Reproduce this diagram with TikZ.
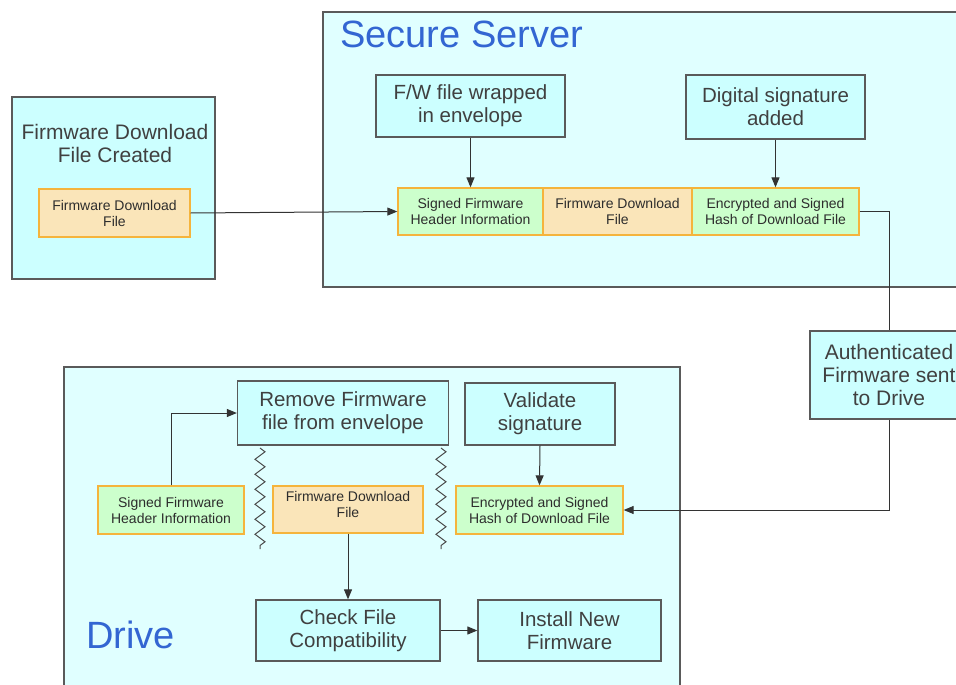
\documentclass[tikz,border=0pt]{standalone}
\usepackage{fontspec}
\setmainfont{Liberation Sans}
\usetikzlibrary{arrows.meta,decorations.pathmorphing}
\definecolor{bigfill}{RGB}{224,255,255}
\definecolor{procfill}{RGB}{204,255,255}
\definecolor{orfill}{RGB}{250,229,185}
\definecolor{grfill}{RGB}{204,255,204}
\definecolor{orline}{RGB}{245,180,60}
\definecolor{edge}{RGB}{90,90,90}
\definecolor{txt}{RGB}{64,64,64}
\definecolor{stxt}{RGB}{45,45,45}
\definecolor{ttl}{RGB}{51,102,210}
\tikzset{
  container/.style={draw=edge, line width=1.3pt, fill=bigfill, inner sep=0pt},
  proc/.style={draw=edge, line width=1.3pt, fill=procfill, text=txt, align=center,
    inner sep=0pt, font=\fontsize{20.5}{23}\selectfont},
  orbox/.style={draw=orline, line width=1.3pt, fill=orfill, text=stxt, align=center,
    inner sep=0pt, font=\fontsize{14}{16}\selectfont},
  grbox/.style={orbox, fill=grfill},
  title/.style={text=ttl, anchor=base west, inner sep=0pt, font=\fontsize{38}{42}\selectfont},
  conn/.style={draw=black!80, line width=1pt},
  arr/.style={conn, -{Triangle[length=10pt,width=8pt]}},
  zz/.style={draw=black!70, line width=1pt, decorate,
    decoration={zigzag, segment length=15pt, amplitude=5pt}}
}
\begin{document}
\begin{tikzpicture}[x=1pt,y=-1pt]
\useasboundingbox[fill=white] (0,0) rectangle (956,685);
% containers
\node[container, fill=procfill, minimum width=203pt, minimum height=182pt] (created) at (113.5,188) {};
\node[container, minimum width=648pt, minimum height=275pt] (server) at (647,149.5) {};
\node[container, minimum width=616pt, minimum height=333pt] (drive) at (372,533.5) {};
\node[title] (servertitle) at (340,48) {Secure Server};
\node[title] (drivetitle) at (86,648) {Drive};
% left
\node[text=txt, align=center, inner sep=0pt, font=\fontsize{21}{23}\selectfont] (createdtitle) at (115,143) {Firmware Download\\File Created};
\node[orbox, minimum width=151pt, minimum height=48pt] (fdl0) at (114.5,213) {Firmware Download\\File};
% server
\node[proc, minimum width=189pt, minimum height=62pt] (wrap) at (470.5,106) {F/W file wrapped\\in envelope};
\node[proc, minimum width=179pt, minimum height=64pt] (digsig) at (775.5,107) {Digital signature\\added};
\node[grbox, minimum width=145pt, minimum height=47pt] (shdr) at (470.5,211.5) {Signed Firmware\\Header Information};
\node[orbox, minimum width=149pt, minimum height=47pt] (sfdl) at (617.5,211.5) {Firmware Download\\File};
\node[grbox, minimum width=167pt, minimum height=47pt] (senc) at (775.5,211.5) {Encrypted and Signed\\Hash of Download File};
% authenticated
\node[proc, minimum width=158pt, minimum height=88pt, font=\fontsize{21}{23}\selectfont] (auth) at (889,375) {Authenticated\\Firmware sent\\to Drive};
% drive
\node[proc, minimum width=211pt, minimum height=64pt] (remove) at (343,413) {Remove Firmware\\file from envelope};
\node[proc, minimum width=150pt, minimum height=62pt] (validate) at (540,414) {Validate\\signature};
\node[grbox, minimum width=146pt, minimum height=48pt] (dhdr) at (171,510) {Signed Firmware\\Header Information};
\node[orbox, minimum width=150pt, minimum height=47pt] (dfdl) at (348,509.5) {Firmware Download\\File\\[-6pt]};
\node[grbox, minimum width=167pt, minimum height=48pt] (denc) at (539.5,510) {Encrypted and Signed\\Hash of Download File};
\node[proc, minimum width=184pt, minimum height=61pt] (check) at (348,630.5) {Check File\\Compatibility};
\node[proc, minimum width=183pt, minimum height=61pt] (install) at (569.5,630.5) {Install New\\Firmware};
% zigzags
\draw[zz] (260,448) -- (260,549);
\draw[zz] (441,448) -- (441,549);
% connectors
\draw[arr] (fdl0.east) -- (shdr.west);
\draw[arr] (wrap.south) -- (shdr.north);
\draw[arr] (digsig.south) -- (senc.north);
\draw[conn] (senc.east) -| (auth.north);
\draw[arr] (auth.south) |- (denc.east);
\draw[arr] (dhdr.north) |- (remove.west);
\draw[arr] (validate.south) -- (denc.north);
\draw[arr] (dfdl.south) -- (check.north);
\draw[arr] (check.east) -- (install.west);
\end{tikzpicture}
\end{document}
